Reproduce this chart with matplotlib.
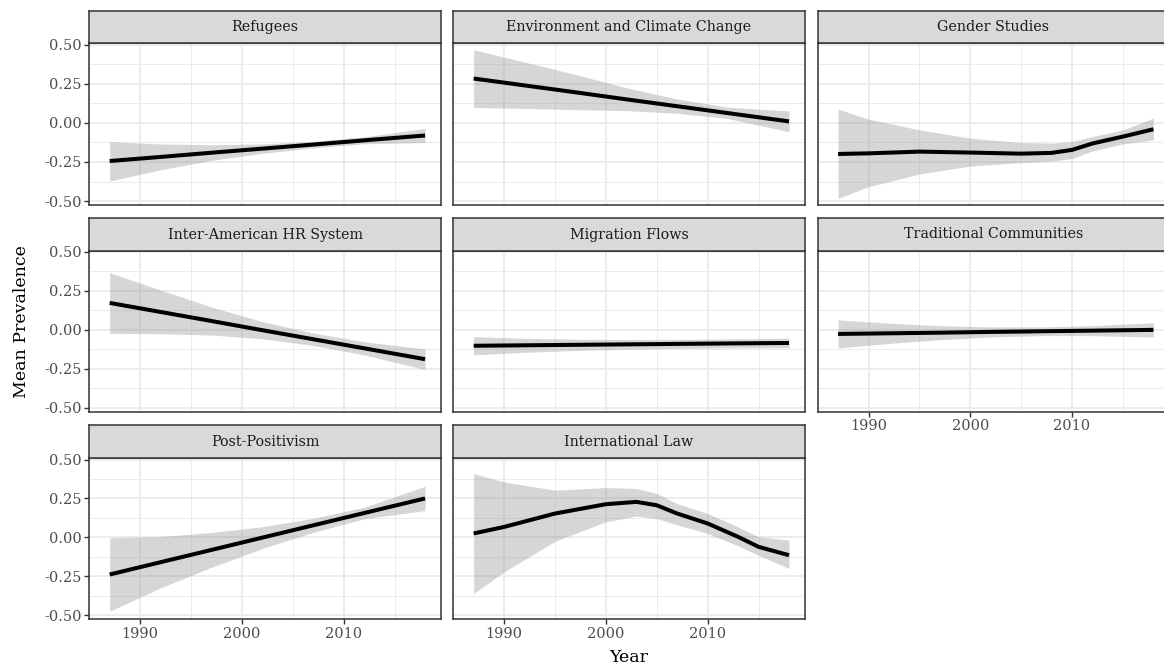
import matplotlib.pyplot as plt

plt.rcParams['font.family'] = ['DejaVu Serif']

# facet order (facet_wrap, 3 columns)
panels = ['Refugees', 'Environment and Climate Change', 'Gender Studies',
          'Inter-American HR System', 'Migration Flows', 'Traditional Communities',
          'Post-Positivism', 'International Law']

yr7 = [1987, 1992, 1997, 2002, 2007, 2012, 2018]

ref_fit = [-0.244, -0.218, -0.191, -0.165, -0.139, -0.112, -0.081]
ref_lo = [-0.372, -0.300, -0.240, -0.195, -0.160, -0.134, -0.126]
ref_hi = [-0.120, -0.135, -0.140, -0.135, -0.118, -0.090, -0.036]

env_fit = [0.283, 0.239, 0.195, 0.150, 0.106, 0.062, 0.009]
env_lo = [0.098, 0.092, 0.084, 0.078, 0.061, 0.027, -0.057]
env_hi = [0.467, 0.388, 0.309, 0.224, 0.152, 0.100, 0.076]

gen_yr = [1987, 1990, 1995, 2000, 2005, 2008, 2010, 2012, 2015, 2018]
gen_fit = [-0.199, -0.195, -0.184, -0.190, -0.197, -0.192, -0.173, -0.132, -0.088, -0.041]
gen_lo = [-0.483, -0.408, -0.327, -0.276, -0.254, -0.244, -0.228, -0.180, -0.135, -0.109]
gen_hi = [0.088, 0.023, -0.045, -0.098, -0.126, -0.130, -0.120, -0.088, -0.045, 0.030]

iah_fit = [0.173, 0.115, 0.057, -0.002, -0.060, -0.118, -0.188]
iah_lo = [-0.022, -0.025, -0.033, -0.057, -0.100, -0.160, -0.254]
iah_hi = [0.368, 0.255, 0.147, 0.053, -0.020, -0.076, -0.122]

mig_fit = [-0.102, -0.099, -0.096, -0.093, -0.090, -0.087, -0.084]
mig_lo = [-0.160, -0.144, -0.132, -0.124, -0.119, -0.116, -0.115]
mig_hi = [-0.044, -0.054, -0.060, -0.062, -0.061, -0.058, -0.053]

tra_fit = [-0.026, -0.022, -0.018, -0.013, -0.009, -0.005, 0.000]
tra_lo = [-0.116, -0.087, -0.063, -0.045, -0.037, -0.037, -0.046]
tra_hi = [0.064, 0.043, 0.027, 0.019, 0.019, 0.027, 0.046]

pos_fit = [-0.239, -0.160, -0.081, -0.002, 0.077, 0.156, 0.250]
pos_lo = [-0.475, -0.325, -0.193, -0.072, 0.032, 0.119, 0.172]
pos_hi = [-0.003, 0.005, 0.031, 0.068, 0.122, 0.193, 0.328]

law_yr = [1987, 1990, 1995, 2000, 2003, 2005, 2007, 2010, 2013, 2015, 2018]
law_fit = [0.025, 0.067, 0.153, 0.213, 0.228, 0.206, 0.153, 0.089, 0.003, -0.061, -0.115]
law_lo = [-0.361, -0.222, -0.025, 0.100, 0.136, 0.121, 0.080, 0.025, -0.055, -0.115, -0.200]
law_hi = [0.410, 0.356, 0.303, 0.320, 0.314, 0.282, 0.217, 0.153, 0.067, 0.003, -0.018]

series = [
    (yr7, ref_fit, ref_lo, ref_hi),
    (yr7, env_fit, env_lo, env_hi),
    (gen_yr, gen_fit, gen_lo, gen_hi),
    (yr7, iah_fit, iah_lo, iah_hi),
    (yr7, mig_fit, mig_lo, mig_hi),
    (yr7, tra_fit, tra_lo, tra_hi),
    (yr7, pos_fit, pos_lo, pos_hi),
    (law_yr, law_fit, law_lo, law_hi),
]

yticks = [-0.50, -0.25, 0.00, 0.25, 0.50]
xticks = [1990, 2000, 2010]

W, H = 1164, 666
fig = plt.figure(figsize=(W / 100, H / 100), dpi=100)

col_x = [89.3, 453.3, 817.7]
pw = 351.5
# strip top, panel top, panel bottom (pixels from the top)
row_y = [(11, 43.3, 205), (218.3, 250.7, 411.7), (425, 458.3, 619)]

border = '#333333'
for i, name in enumerate(panels):
    r, c = divmod(i, 3)
    x0 = col_x[c]
    st, pt, pb = row_y[r]
    ax = fig.add_axes([x0 / W, 1 - pb / H, pw / W, (pb - pt) / H])
    sx = fig.add_axes([x0 / W, 1 - pt / H, pw / W, (pt - st) / H])
    sx.set_facecolor('#D9D9D9')
    sx.set_xticks([])
    sx.set_yticks([])
    for s in sx.spines.values():
        s.set_color(border)
        s.set_linewidth(1.1)
    sx.text(0.5, 0.5, name, ha='center', va='center', fontsize=10.3, color='#1A1A1A',
            transform=sx.transAxes)

    yr, fit, lo, hi = series[i]
    ax.fill_between(yr, lo, hi, color='#999999', alpha=0.4, linewidth=0, zorder=2)
    ax.plot(yr, fit, color='black', linewidth=2.9, solid_capstyle='butt', zorder=3)

    ax.set_xlim(1985.45, 2019.55)
    ax.set_ylim(-0.525, 0.508)
    ax.set_xticks(xticks)
    ax.set_xticks([1985, 1995, 2005, 2015], minor=True)
    ax.set_yticks(yticks)
    ax.set_yticks([-0.375, -0.125, 0.125, 0.375], minor=True)
    ax.grid(which='major', color='#EBEBEB', linewidth=1.3)
    ax.grid(which='minor', color='#EBEBEB', linewidth=0.7)
    ax.set_axisbelow(True)
    for s in ax.spines.values():
        s.set_color(border)
        s.set_linewidth(1.1)
    ax.tick_params(which='minor', length=0)
    ax.tick_params(which='major', length=3.5, width=1, color=border,
                   labelsize=10.5, labelcolor='#4D4D4D', pad=2)

    if c == 0:
        ax.set_yticklabels(['-0.50', '-0.25', '0.00', '0.25', '0.50'])
    else:
        ax.tick_params(axis='y', length=0, labelleft=False)
    bottom = (r == 2) or (r == 1 and c == 2)
    if bottom:
        ax.set_xticklabels([str(v) for v in xticks])
    else:
        ax.tick_params(axis='x', length=0, labelbottom=False)

fig.text(629 / W, 1 - 657 / H, 'Year', ha='center', va='center', fontsize=12.5)
fig.text(22 / W, 1 - 322 / H, 'Mean Prevalence', ha='center', va='center',
         rotation=90, fontsize=12.5)

fig.savefig('out.png', dpi=100)
